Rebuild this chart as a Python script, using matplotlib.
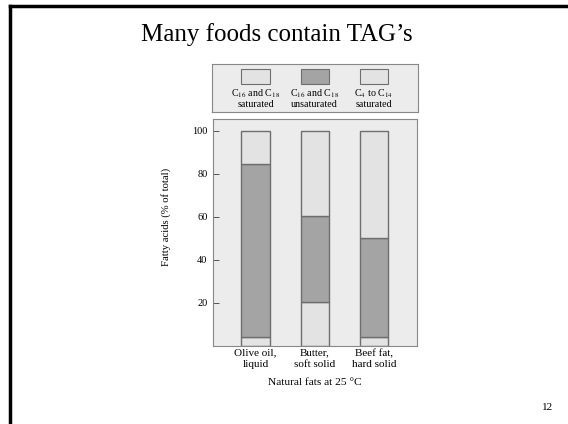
import matplotlib.pyplot as plt
from matplotlib.patches import Rectangle

# data (% of total fatty acids)
fats = ["Olive oil,\nliquid", "Butter,\nsoft solid", "Beef fat,\nhard solid"]
sat_c16_c18 = [4, 20.5, 4]
unsat_c16_c18 = [80.5, 40, 46]
sat_c4_c14 = [15.5, 39.5, 50]
legend_labels = ["C$_{16}$ and C$_{18}$\nsaturated",
                 "C$_{16}$ and C$_{18}$\nunsaturated",
                 "C$_{4}$ to C$_{14}$\nsaturated"]
yticks = [20, 40, 60, 80, 100]

light = "#e3e3e3"
dark = "#a4a4a4"
edge = "#6e6e6e"
bg = "#ececec"

plt.rcParams['font.family'] = ['Liberation Serif', 'DejaVu Serif']
plt.rcParams['mathtext.fontset'] = 'stix'

fig = plt.figure(figsize=(5.68, 4.24), dpi=100)

# slide frame (left / top edges)
fig.add_artist(plt.Line2D([9.5 / 568, 9.5 / 568], [0, 1 - 6 / 424], color="black", lw=2.5))
fig.add_artist(plt.Line2D([9.5 / 568, 1], [1 - 6 / 424, 1 - 6 / 424], color="black", lw=2.5))

fig.text(277 / 568, 1 - 35 / 424, "Many foods contain TAG\u2019s", ha="center", va="center", fontsize=18)
fig.text(548 / 568, 1 - 407 / 424, "12", ha="center", va="center", fontsize=8)

# main plot
ax = fig.add_axes([213 / 568, 1 - 346 / 424, 204 / 568, 227 / 424])
ax.set_facecolor(bg)
x = [0, 1, 2]
w = 0.48
xlim = (-0.72, 2.73)
ax.bar(x, sat_c16_c18, width=w, color=light, edgecolor=edge, linewidth=1)
ax.bar(x, unsat_c16_c18, width=w, bottom=sat_c16_c18, color=dark, edgecolor=edge, linewidth=1)
bottoms = [a + b for a, b in zip(sat_c16_c18, unsat_c16_c18)]
ax.bar(x, sat_c4_c14, width=w, bottom=bottoms, color=light, edgecolor=edge, linewidth=1)
ax.set_xlim(*xlim)
ax.set_ylim(0, 105.5)
ax.set_yticks(yticks)
ax.set_yticklabels([str(v) for v in yticks], fontsize=7.5)
ax.set_xticks(x)
ax.set_xticklabels(fats, fontsize=8, linespacing=1.3)
ax.tick_params(axis="x", length=0, pad=2)
ax.tick_params(axis="y", direction="in", length=4, width=0.7, color="#555555", pad=4)
for s in ax.spines.values():
    s.set_color("#888888")
    s.set_linewidth(0.8)
ax.set_ylabel("Fatty acids (% of total)", fontsize=7.7)
ax.yaxis.set_label_coords(-0.205, 0.568)
ax.set_xlabel("Natural fats at 25 \u00b0C", fontsize=8.2, labelpad=6)

# legend box, same x scale as the bars so the keys sit above them
upp = (xlim[1] - xlim[0]) / 204
lax = fig.add_axes([212 / 568, 1 - 112 / 424, 206 / 568, 48 / 424])
lax.set_facecolor(bg)
lax.set_xticks([])
lax.set_yticks([])
for s in lax.spines.values():
    s.set_color("#888888")
    s.set_linewidth(0.8)
lax.set_xlim(xlim[0] - upp, xlim[1] + upp)
lax.set_ylim(0, 48)
for cx, col, lab in zip(x, [light, dark, light], legend_labels):
    lax.add_patch(Rectangle((cx - w / 2, 28), w, 15, facecolor=col, edgecolor=edge, lw=0.8))
    lax.text(cx, 14, lab, ha="center", va="center", fontsize=7.2, linespacing=1.0)

fig.savefig("out.png", dpi=100)
plt.close(fig)
